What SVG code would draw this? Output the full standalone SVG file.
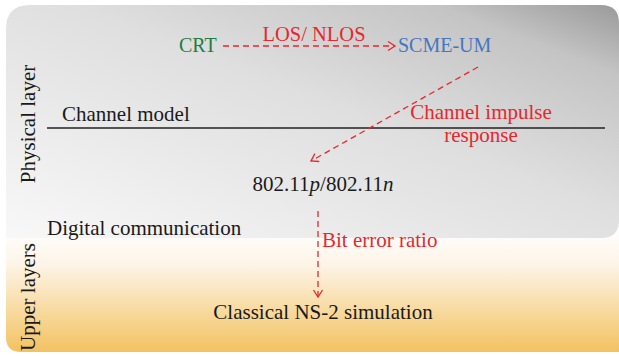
<svg xmlns="http://www.w3.org/2000/svg" width="619" height="356" viewBox="0 0 619 356">
  <defs>
    <linearGradient id="grayGrad" x1="1" y1="0" x2="0" y2="1">
      <stop offset="0" stop-color="#9a9a9a"/>
      <stop offset="0.15" stop-color="#c4c4c4"/>
      <stop offset="0.45" stop-color="#dfdfdf"/>
      <stop offset="1" stop-color="#f8f8f8"/>
    </linearGradient>
    <linearGradient id="orangeGrad" x1="0" y1="0" x2="0" y2="1">
      <stop offset="0" stop-color="#ffffff"/>
      <stop offset="0.3" stop-color="#fdf4e6"/>
      <stop offset="1" stop-color="#f3c260"/>
    </linearGradient>
    <marker id="arrow" markerUnits="userSpaceOnUse" markerWidth="12" markerHeight="12" refX="10" refY="6" orient="auto" overflow="visible">
      <path d="M3,1.5 L10,6 L3,10.5" fill="none" stroke="#e8272d" stroke-width="1.3"/>
    </marker>
    <style>
      .blk { fill: #1a1a1a; }
      .red { fill: #e8272d; }
      .grn { fill: #1b7f3f; }
      .blu { fill: #4577c0; }
      .conn { stroke: #e8272d; stroke-width: 1.3; stroke-dasharray: 6 4; fill: none; marker-end: url(#arrow); }
    </style>
  </defs>

  <g id="backgrounds">
    <path d="M6,228 H619 V352 H21 Q6,352 6,337 Z" fill="url(#orangeGrad)"/>
    <path d="M30,5 H601 Q619,5 619,23 V220 Q619,238 601,238 H6 V29 Q6,5 30,5 Z" fill="url(#grayGrad)"/>
    <line x1="47" y1="128" x2="605" y2="128" stroke="#222" stroke-width="1.5"/>
  </g>

  <g font-family="'Liberation Serif', 'Times New Roman', Times, serif" font-size="21">
    <g id="layer-labels">
      <text class="blk" transform="translate(35,124) rotate(-90)" text-anchor="middle">Physical layer</text>
      <text class="blk" transform="translate(35,297) rotate(-90)" text-anchor="middle">Upper layers</text>
    </g>

    <g id="section-labels">
      <text class="blk" x="62" y="121">Channel model</text>
      <text class="blk" x="47" y="235">Digital communication</text>
    </g>

    <g id="crt"><text class="grn" x="179" y="52" font-size="20">CRT</text></g>
    <g id="scme-um"><text class="blu" x="398" y="52" font-size="20">SCME-UM</text></g>
    <g id="wlan"><text class="blk" x="323" y="191" text-anchor="middle">802.11<tspan font-style="italic">p</tspan>/802.11<tspan font-style="italic">n</tspan></text></g>
    <g id="ns2"><text class="blk" x="323" y="319" text-anchor="middle">Classical NS-2 simulation</text></g>

    <g id="connectors">
      <line class="conn" x1="223" y1="46" x2="395" y2="46"/>
      <line class="conn" x1="478" y1="67" x2="311" y2="161"/>
      <line class="conn" x1="318" y1="211" x2="318" y2="297"/>
      <text class="red" x="314" y="41" text-anchor="middle" font-size="20.5">LOS/ NLOS</text>
      <text class="red" x="481" y="119" text-anchor="middle">Channel impulse</text>
      <text class="red" x="481" y="142" text-anchor="middle">response</text>
      <text class="red" x="322" y="247">Bit error ratio</text>
    </g>
  </g>
</svg>
